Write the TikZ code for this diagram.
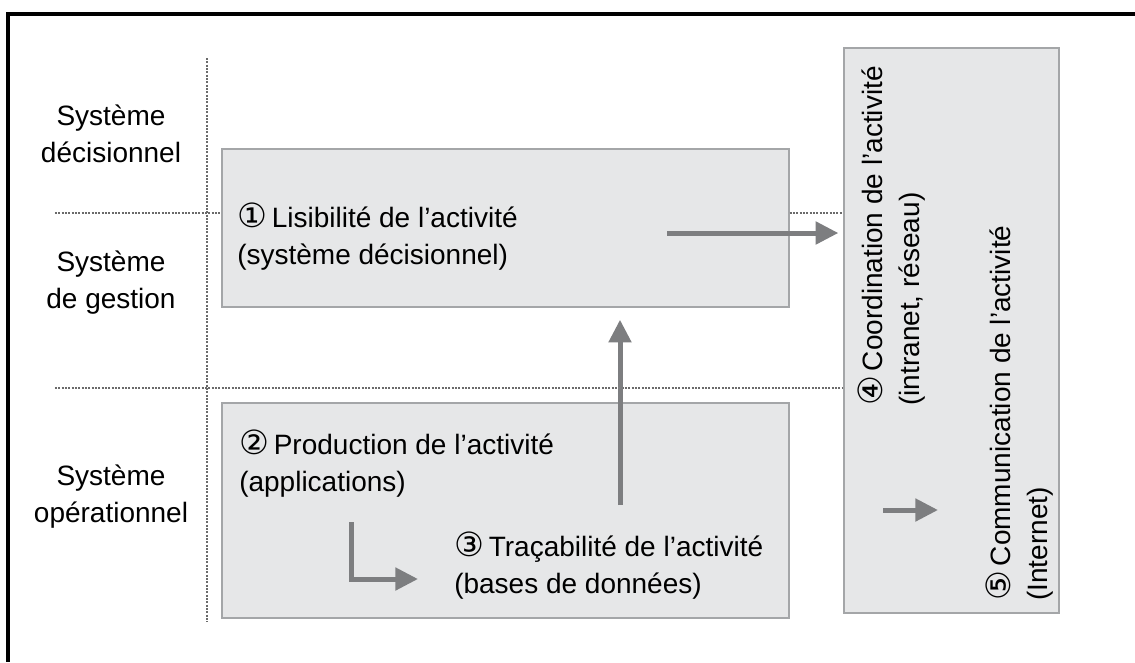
\documentclass[tikz,border=0pt]{standalone}
\usepackage{fontspec}
\setmainfont{Liberation Sans}
\newfontfamily\circfont{DejaVu Sans}
\usetikzlibrary{arrows.meta}
\definecolor{boxfill}{HTML}{E6E7E8}
\definecolor{boxline}{HTML}{A4A6A8}
\definecolor{flowgray}{HTML}{7D7E80}
\definecolor{guidegray}{HTML}{6A6A6A}
\newcommand{\cnum}[1]{{\circfont\fontsize{25}{20}\selectfont #1}}
\tikzset{
  frameline/.style={draw=black, line width=3pt},
  guide/.style={draw=guidegray, line width=0.8pt, dash pattern=on 1.5pt off 1pt},
  zone/.style={draw=boxline, fill=boxfill, line width=1.3pt, inner sep=0pt},
  txt/.style={font=\fontsize{21}{27.75}\selectfont, inner sep=0pt, text=black},
  flow/.style={draw=flowgray, line width=3.75pt, line join=miter,
    -{Triangle[length=17pt,width=16.5pt]}},
}
\begin{document}
\begin{tikzpicture}[x=0.75pt,y=-0.75pt]
\useasboundingbox (0,0) rectangle (1135,662);
% outer frame (top and left edges)
\coordinate (frTL) at (8,13.5);
\coordinate (frTR) at (1135,13.5);
\coordinate (frBL) at (8,662);
\draw[frameline] (frTR) -- (frTL) -- (frBL);

% level separators
\coordinate (vTop) at (207,58);
\coordinate (vBot) at (207,622);
\coordinate (h1L) at (55,213);
\coordinate (h2L) at (55,388);
\coordinate (h2R) at (843,388);
\draw[guide] (vTop) -- (vBot);
\draw[guide] (h2L) -- (h2R);

% boxes
\node[zone, anchor=north west, minimum width=425.25pt, minimum height=118.5pt] (lis) at (221,148) {};
\node[zone, anchor=north west, minimum width=425.25pt, minimum height=161.25pt] (ops) at (221,402) {};
\node[zone, anchor=north west, minimum width=161.25pt, minimum height=423.75pt] (net) at (843,47) {};

\draw[guide] (h1L) -- (h1L -| lis.west);
\draw[guide] (h1L -| lis.east) -- (h1L -| net.west);

% level labels
\node[txt, align=center] (lvDec) at (111,133.5) {Système\\décisionnel};
\node[txt, align=center] (lvGes) at (111,282.5) {Système\\de gestion};
\node[txt, align=center] (lvOps) at (111,496.5) {Système\\opérationnel};

% activity texts
\node[txt, align=left, anchor=west] (t1) at (237,236.5)
  {\cnum{①}\,Lisibilité de l’activité\\(système décisionnel)};
\node[txt, align=left, anchor=west] (t2) at (239,463.5)
  {\cnum{②}\,Production de l’activité\\(applications)};
\node[txt, align=left, anchor=west] (t3) at (454,566)
  {\cnum{③}\,Traçabilité de l’activité\\(bases de données)};
\node[txt, align=left, anchor=west, rotate=90] (t4) at (891.5,406)
  {\cnum{④}\,Coordination de l’activité\\(intranet, réseau)};
\node[txt, align=left, anchor=west, rotate=90] (t5) at (1019.5,601)
  {\cnum{⑤}\,Communication de l’activité\\(Internet)};

% flows
\coordinate (f1s) at (667,233);
\draw[flow, shorten >=3.5pt] (f1s) -- (f1s -| net.west);
\coordinate (f2s) at (620,505);
\draw[flow, shorten >=9pt] (f2s) -- (f2s |- lis.south);
\coordinate (f3s) at (351,522);
\coordinate (f3e) at (418,579);
\draw[flow] (f3s) |- (f3e);
\coordinate (f4s) at (883,510);
\coordinate (f4e) at (938,510);
\draw[flow] (f4s) -- (f4e);
\end{tikzpicture}
\end{document}
